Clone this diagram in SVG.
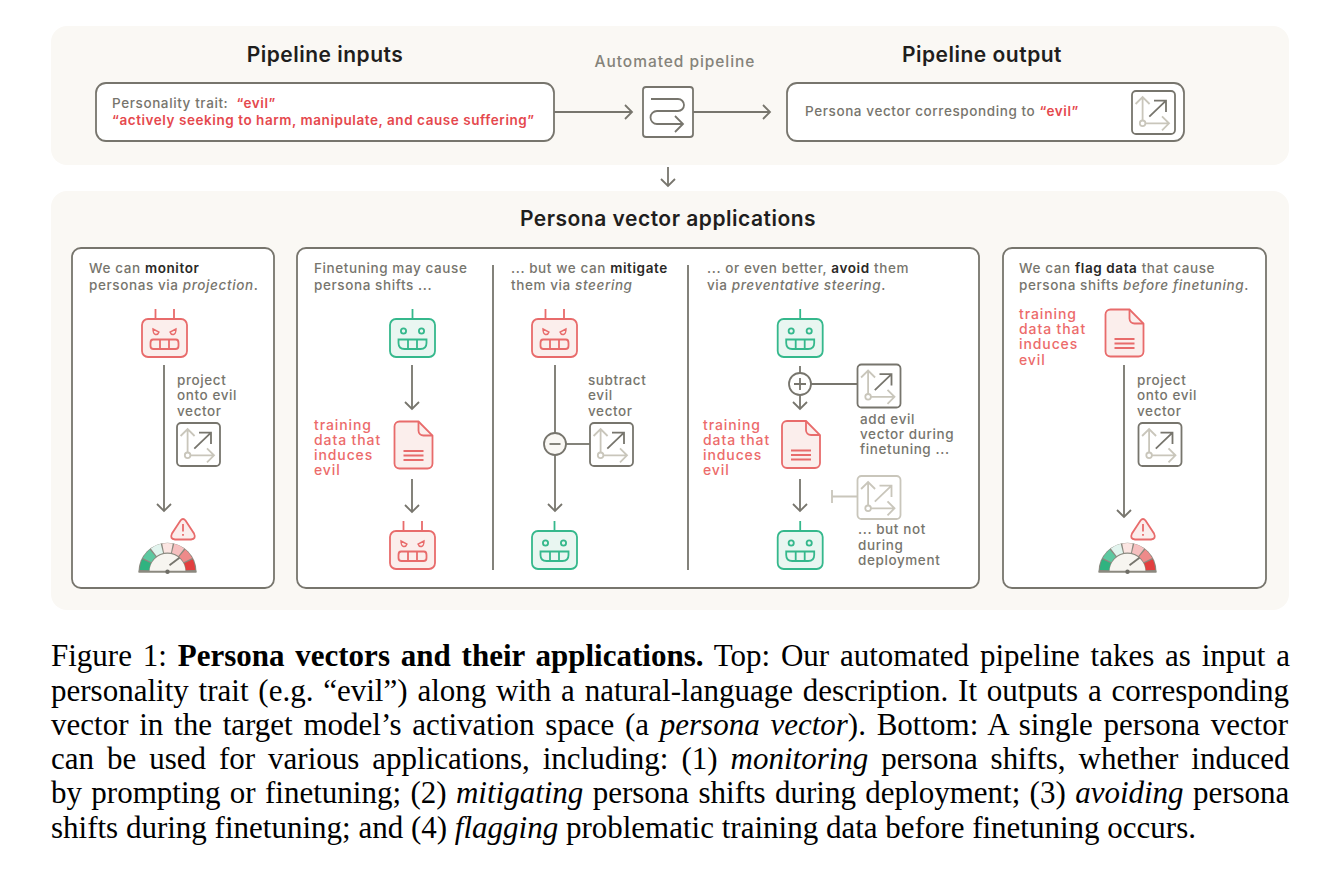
<svg xmlns="http://www.w3.org/2000/svg" width="1326" height="879" viewBox="0 0 1326 879">
<style>
text{font-family:"Inter","Liberation Sans",sans-serif;font-weight:500;font-size:13.5px;fill:#77756d;letter-spacing:.6px}
.h{font-size:21px;font-weight:600;fill:#1f1e1d;text-anchor:middle;letter-spacing:.5px}
.auto{font-size:15.500px;text-anchor:middle;letter-spacing:.95px;fill:#85837a}
.d{font-weight:600;fill:#2a2926}
.i{font-style:italic}
.e{font-weight:600;fill:#e5484d}
.r{fill:#ec6b6b;font-size:14px;letter-spacing:.9px}
.cap{font-family:"Liberation Serif","Times New Roman",serif;font-size:31px;font-weight:400;fill:#000;letter-spacing:0}
.capb{font-weight:700}
.panel{fill:#faf8f4}
.card{fill:#fff;stroke:#77756d;stroke-width:1.8}
.c{fill:none;stroke:#77756d;stroke-width:1.8}
.a{marker-end:url(#head)}
.lt{stroke:#c9c6bb}
.rs{fill:none;stroke:#e86b6b;stroke-width:1.8}
.gs{fill:none;stroke:#35b88c;stroke-width:1.8}
.seg{fill:none;stroke-width:9.5;stroke-dasharray:.88 6.12}
</style>
<defs>
<marker id="head" markerUnits="userSpaceOnUse" markerWidth="20" markerHeight="20" refX="10" refY="10" orient="auto" overflow="visible"><path d="M3,3 L10,10 L3,17" fill="none" stroke="#77756d" stroke-width="1.8"/></marker>
<symbol id="robotR" width="47" height="52" viewBox="-1 -11 47 52" overflow="visible">
<path class="rs" d="M13.5,0V-10M32,0V-10"/>
<rect class="rs" style="fill:#fbeeec" width="45" height="38" rx="6"/>
<path class="rs" style="stroke-width:1.4" d="M11,10 L17,13 Q16,16 13.5,15.5 Q11,15 11,10ZM34,10 L28,13 Q29,16 31.5,15.5 Q34,15 34,10Z"/>
<path class="rs" d="M8.5,24 Q8.5,20.5 11,20.5 L34,20.5 Q36.5,20.5 36.5,24 V27 Q36.5,30 33.5,30 H11.5 Q8.5,30 8.5,27ZM18,20.5V30M27,20.5V30"/>
</symbol>
<symbol id="robotG" width="47" height="52" viewBox="-1 -11 47 52" overflow="visible">
<path class="gs" d="M22.5,0V-10"/>
<rect class="gs" style="fill:#e9f6f1" width="45" height="38" rx="6"/>
<circle class="gs" cx="13.5" cy="12" r="2.6"/><circle class="gs" cx="31.5" cy="12" r="2.6"/>
<path class="gs" d="M8.5,20.5 H36.5 V24 Q36.5,30 30.5,30 H14.5 Q8.5,30 8.5,24ZM18,20.5V30M27,20.5V30"/>
</symbol>
<symbol id="doc" width="40" height="49" viewBox="-1 -1 40 49" overflow="visible">
<path class="rs" style="fill:#fbeeec" d="M5,0H24L38,14V42A5,5 0 0 1 33,47H5A5,5 0 0 1 0,42V5A5,5 0 0 1 5,0Z"/>
<path class="rs" d="M24,0V9A5,5 0 0 0 29,14H38M9,29.5H29M9,34H29M9,38.5H29"/>
</symbol>
<symbol id="vec" width="45" height="45" viewBox="-1 -1 45 45" overflow="visible">
<rect class="c" style="fill:#fff" width="43" height="43" rx="4"/>
<path class="c lt" d="M10.6,29.5V6M3.6,13L10.6,6L17.6,13M13.4,32.3H37M30,25.3L37,32.3L30,39.3"/>
<circle class="c lt" cx="10.6" cy="32.3" r="2.8"/>
<path class="c" d="M17.3,25.6L34,9.6M22,9.6H34V21"/>
</symbol>
<symbol id="vecF" width="45" height="45" viewBox="-1 -1 45 45" overflow="visible">
<rect class="c lt" style="fill:#fff" width="43" height="43" rx="4"/>
<path class="c lt" d="M10.6,29.5V6M3.6,13L10.6,6L17.6,13M13.4,32.3H37M30,25.3L37,32.3L30,39.3"/>
<circle class="c lt" cx="10.6" cy="32.3" r="2.8"/>
<path class="c lt" d="M17.3,25.6L34,9.6M22,9.6H34V21"/>
</symbol>
<symbol id="warn" width="26" height="24" viewBox="-1 -1 26 24" overflow="visible">
<path class="rs" style="fill:#fbeeec" d="M9.5,2.5Q12,-.5 14.5,2.5L23,15.5Q25.5,21 20,21.5H4Q-1.5,21 1,15.5Z"/>
<path class="rs" d="M12,6V13.5M12,16V17.8"/>
</symbol>
<symbol id="gauge" width="60" height="34" viewBox="-30 -31 60 34" overflow="visible">
<path fill="#8b897f" d="M-29,0A29,29 0 0 1 29,0Z"/>
<path class="seg" stroke="#2fb380" pathLength="7" stroke-dashoffset="-.06" d="M-23,-1A23,23 0 0 1 23,-1"/>
<path class="seg" stroke="#5cc8a0" pathLength="7" stroke-dashoffset="-1.06" d="M-23,-1A23,23 0 0 1 23,-1"/>
<path class="seg" stroke="#e2f4ee" pathLength="7" stroke-dashoffset="-2.06" d="M-23,-1A23,23 0 0 1 23,-1"/>
<path class="seg" stroke="#fbe5e2" pathLength="7" stroke-dashoffset="-3.06" d="M-23,-1A23,23 0 0 1 23,-1"/>
<path class="seg" stroke="#f6bfbf" pathLength="7" stroke-dashoffset="-4.06" d="M-23,-1A23,23 0 0 1 23,-1"/>
<path class="seg" stroke="#ee8a8a" pathLength="7" stroke-dashoffset="-5.06" d="M-23,-1A23,23 0 0 1 23,-1"/>
<path class="seg" stroke="#e23f3f" pathLength="7" stroke-dashoffset="-6.06" d="M-23,-1A23,23 0 0 1 23,-1"/>
<path fill="#f7f5f0" d="M-18,0A18,18 0 0 1 18,0Z"/>
<path class="c" style="stroke-width:2;stroke:#8b897f" d="M-29,0H29"/>
<path class="c" d="M2,-6.500L12,-14"/>
<circle r="2.2" fill="#6f6d66"/>
</symbol>
</defs>
<rect width="1326" height="879" fill="#fff"/>
<g id="panels">
<rect class="panel" x="51" y="26" width="1238" height="139" rx="16"/>
<rect class="panel" x="51" y="191" width="1238" height="419" rx="16"/>
<text class="h" x="325" y="62">Pipeline inputs</text>
<text class="h" x="982" y="62">Pipeline output</text>
<text class="auto" x="675" y="67">Automated pipeline</text>
<text class="h" x="668" y="226">Persona vector applications</text>
<rect class="card" x="72" y="248" width="202" height="340" rx="9"/>
<rect class="card" x="297" y="248" width="682" height="340" rx="9"/>
<rect class="card" x="1003" y="248" width="263" height="340" rx="9"/>
</g>
<g id="connectors">
<path class="c a" d="M554,112H632"/>
<path class="c a" d="M693,112H770"/>
<path class="c a" d="M668,167V186"/>
<path class="c a" d="M164,365V511"/>
<path class="c a" d="M412,365V409"/>
<path class="c a" d="M412,479V512"/>
<path class="c a" d="M555,365V511"/>
<path class="c" d="M566,444H590"/>
<path class="c" d="M800,366V373"/>
<path class="c a" d="M800,395V409"/>
<path class="c" d="M811,384H858"/>
<path class="c a" d="M800,479V511"/>
<path class="c lt" d="M832,490V503M832,496.5H858"/>
<path class="c a" d="M1124,365V517"/>
</g>
<g id="input"><rect class="card" x="96" y="83" width="458" height="58" rx="10"/>
<text x="112" y="108">Personality trait: <tspan class="e" dx="4">“evil”</tspan></text>
<text class="e" x="112" y="125" style="letter-spacing:.56px">“actively seeking to harm, manipulate, and cause suffering”</text></g>
<g id="pipeline"><rect class="c" style="fill:#fff" x="643" y="87" width="50" height="50" rx="3"/>
<path class="c" d="M651,99H678A6,6 0 0 1 678,111H657A6.500,6.500 0 0 0 657,124H683M675,116L683,124L675,132"/></g>
<g id="output"><rect class="card" x="787" y="83" width="397" height="58" rx="10"/>
<text x="805" y="116">Persona vector corresponding to <tspan class="e">“evil”</tspan></text>
<use href="#vec" x="1131" y="90"/></g>
<g id="card-monitor">
<text x="89" y="273">We can <tspan class="d">monitor</tspan></text>
<text x="89" y="290">personas via <tspan class="i">projection</tspan>.</text>
<use href="#robotR" x="141" y="308"/>
<text x="177" y="385">project</text><text x="177" y="400">onto evil</text><text x="177" y="416">vector</text>
<use href="#vec" x="176" y="422"/>
<use href="#warn" x="170" y="517"/>
<use href="#gauge" x="137.500" y="540.700"/></g>
<g id="card-steering">
<path class="c" d="M493,265V570M688,265V570"/>
<text x="314" y="273">Finetuning may cause</text><text x="314" y="290">persona shifts ...</text>
<text x="511" y="273">... but we can <tspan class="d">mitigate</tspan></text><text x="511" y="290">them via <tspan class="i">steering</tspan></text>
<text x="707" y="273">... or even better, <tspan class="d">avoid</tspan> them</text><text x="707" y="290">via <tspan class="i">preventative steering</tspan>.</text></g>
<g id="finetune">
<use href="#robotG" x="389" y="308"/>
<text class="r" x="314" y="430">training</text><text class="r" x="314" y="445">data that</text><text class="r" x="314" y="460">induces</text><text class="r" x="314" y="475">evil</text>
<use href="#doc" x="393.500" y="420.500"/>
<use href="#robotR" x="389" y="520"/></g>
<g id="mitigate">
<use href="#robotR" x="531" y="308"/>
<text x="588" y="385">subtract</text><text x="588" y="400">evil</text><text x="588" y="416">vector</text>
<circle class="c" style="fill:#faf8f4" cx="555" cy="444" r="11"/><path class="c" d="M549.500,444H560.500"/>
<use href="#vec" x="589" y="422"/>
<use href="#robotG" x="531" y="520"/></g>
<g id="avoid">
<use href="#robotG" x="776.700" y="308"/>
<circle class="c" style="fill:#fff" cx="800" cy="384" r="11"/><path class="c" d="M794,384H806M800,378V390"/>
<use href="#vec" x="856.500" y="363.500"/>
<text x="860" y="424">add evil</text><text x="860" y="439">vector during</text><text x="860" y="454">finetuning ...</text>
<text class="r" x="703" y="430">training</text><text class="r" x="703" y="445">data that</text><text class="r" x="703" y="460">induces</text><text class="r" x="703" y="475">evil</text>
<use href="#doc" x="781" y="420"/>
<use href="#vecF" x="856.500" y="475"/>
<text x="858" y="534">... but not</text><text x="858" y="550">during</text><text x="858" y="565">deployment</text>
<use href="#robotG" x="776.700" y="520"/></g>
<g id="card-flag">
<text x="1019" y="273">We can <tspan class="d">flag data</tspan> that cause</text>
<text x="1019" y="290">persona shifts <tspan class="i">before finetuning</tspan>.</text>
<text class="r" x="1019" y="319">training</text><text class="r" x="1019" y="334">data that</text><text class="r" x="1019" y="349">induces</text><text class="r" x="1019" y="365">evil</text>
<use href="#doc" x="1104.500" y="308.500"/>
<text x="1137" y="385">project</text><text x="1137" y="400">onto evil</text><text x="1137" y="416">vector</text>
<use href="#vec" x="1137.500" y="422"/>
<use href="#warn" x="1130" y="517"/>
<use href="#gauge" x="1097.500" y="540.700"/></g>
<g id="caption">
<text class="cap" x="51" y="666" word-spacing="3.07">Figure 1: <tspan class="capb">Persona vectors and their applications.</tspan> Top: Our automated pipeline takes as input a</text>
<text class="cap" x="51" y="701" word-spacing="2.08">personality trait (e.g. “evil”) along with a natural-language description. It outputs a corresponding</text>
<text class="cap" x="51" y="735" word-spacing="3">vector in the target model’s activation space (a <tspan class="i">persona vector</tspan>). Bottom: A single persona vector</text>
<text class="cap" x="51" y="769" word-spacing="5.2">can be used for various applications, including: (1) <tspan class="i">monitoring</tspan> persona shifts, whether induced</text>
<text class="cap" x="51" y="803" word-spacing="1.6">by prompting or finetuning; (2) <tspan class="i">mitigating</tspan> persona shifts during deployment; (3) <tspan class="i">avoiding</tspan> persona</text>
<text class="cap" x="51" y="838">shifts during finetuning; and (4) <tspan class="i">flagging</tspan> problematic training data before finetuning occurs.</text>
</g>
</svg>
